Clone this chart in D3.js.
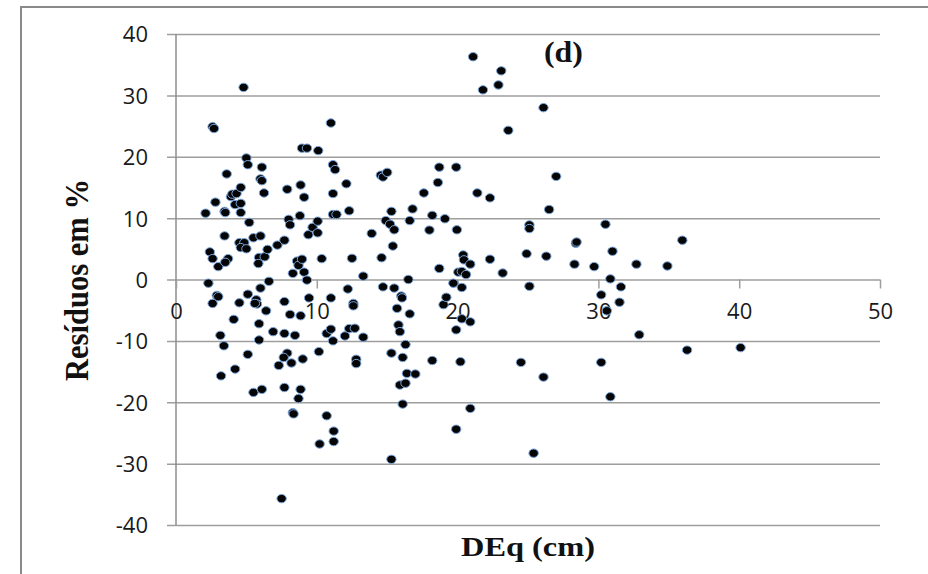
<!DOCTYPE html>
<html>
<head>
<meta charset="utf-8">
<script src="https://cdn.jsdelivr.net/npm/d3@7"></script>
<style>
  body { margin: 0; background: #fff; }
  .axis text { font-family: "Open Sans", sans-serif; font-size: 22px; fill: #1a1a1a; }
  .axis path { display: none; }
  .axis line { stroke: #9e9e9e; stroke-width: 1.5px; }
  .label { font-family: "Liberation Serif", "Times New Roman", serif; font-weight: bold; fill: #111; }
</style>
</head>
<body>
<div id="chart"></div>
<script>
var xTicks = [0, 10, 20, 30, 40, 50];
var yTicks = [-40, -30, -20, -10, 0, 10, 20, 30, 40];

// DEq (cm)
var deq = [
  2.1, 2.3, 2.4, 2.6, 2.6, 2.6, 2.7, 2.8, 2.9, 3.0,
  3.0, 3.15, 3.4, 3.2, 3.45, 3.5, 3.45, 3.6, 3.7, 3.5,
  3.9, 4.0, 4.3, 4.2, 4.6, 4.6, 4.6, 4.1, 4.2, 4.5,
  4.5, 4.85, 4.6, 5.0, 4.8, 5.0, 5.1, 5.2, 5.1, 5.1,
  5.5, 6.0, 5.7, 5.75, 5.6, 5.5, 5.9, 5.85, 6.0, 5.9,
  5.9, 6.1, 6.0, 6.1, 6.25, 6.3, 6.1, 6.4, 6.5, 6.6,
  6.9, 7.2, 7.3, 7.7, 7.7, 7.7, 7.9, 7.65, 7.7, 7.5,
  7.9, 8.0, 8.1, 8.1, 8.2, 8.3, 8.35, 8.3, 8.45, 8.6,
  8.7, 8.7, 8.8, 8.85, 8.85, 8.85, 8.95, 8.95, 9.0, 9.1,
  9.1, 9.3, 9.3, 9.4, 9.45, 9.7, 10.06, 10.06, 10.1, 10.15,
  10.35, 10.2, 10.7, 10.7, 11.0, 11.15, 11.3, 11.15, 11.15, 11.4,
  11.0, 11.0, 11.15, 11.2, 11.2, 12.1, 12.3, 12.5, 12.2, 12.6,
  12.6, 12.0, 12.3, 12.7, 12.8, 12.8, 13.3, 13.3, 13.9, 14.55,
  14.7, 15.0, 14.6, 14.7, 14.9, 15.2, 15.5, 15.3, 15.4, 15.5,
  15.3, 15.3, 15.7, 15.8, 15.9, 16.0, 16.05, 15.9, 16.3, 16.1,
  16.3, 16.1, 16.4, 17.0, 16.5, 16.6, 16.6, 16.8, 17.6, 18.0,
  18.2, 18.2, 18.6, 18.7, 18.7, 19.1, 19.0, 19.2, 19.7, 19.9,
  19.95, 19.9, 19.9, 20.2, 20.3, 20.3, 20.9, 20.4, 20.45, 20.05,
  20.3, 20.6, 20.9, 20.9, 21.1, 21.8, 21.4, 22.3, 22.3, 22.9,
  23.1, 23.2, 23.6, 24.5, 24.9, 25.1, 25.1, 25.1, 25.4, 26.1,
  26.1, 26.3, 26.5, 27.0, 28.3, 28.4, 28.45, 29.7, 30.2, 30.2,
  30.5, 30.6, 30.85, 30.85, 31.0, 31.5, 31.6, 32.7, 32.9, 34.9,
  35.96, 36.3, 40.1
];

// Resíduos em %
var residuos = [
  10.8, -0.6, 4.5, 3.4, -3.9, 24.9, 24.6, 12.6, -2.6, -2.8,
  2.1, -9.1, -10.8, -15.7, 11.1, 10.9, 7.1, 17.2, 3.4, 2.8,
  13.5, 13.9, 14.0, 12.2, 12.4, 15.0, 10.9, -6.5, -14.6, -3.8,
  6.0, 6.0, 5.2, 5.0, 31.3, 19.8, 18.7, 9.3, -2.4, -12.2,
  6.8, 7.1, -3.3, -4.0, -3.9, -18.4, 3.6, 2.6, -1.4, -7.2,
  -9.85, 18.3, 16.4, 16.1, 14.1, 3.7, -17.9, -5.1, 4.9, -0.3,
  -8.5, 5.6, -14.0, 6.4, -3.6, -8.8, -12.0, -12.7, -17.6, -35.7,
  14.7, 9.8, 8.9, -5.7, -13.6, -21.7, -21.9, 1.0, -9.1, 3.0,
  2.3, -19.4, 10.4, 15.4, -5.9, -17.9, 21.4, 3.3, -12.95, 13.4,
  1.2, 21.4, -0.1, 7.3, -3.0, 8.5, 9.5, 7.6, 21.0, -11.75,
  3.4, -26.8, -8.8, -22.2, 25.5, 18.7, 17.9, 14.0, 10.6, 10.6,
  -3.0, -8.1, -10.0, -24.7, -26.4, 15.6, 11.2, 3.45, -1.55, -3.9,
  -4.3, -9.2, -8.0, -7.95, -13.0, -13.7, 0.55, -9.4, 7.5, 17.0,
  16.7, 17.45, 3.55, -1.2, 9.6, 9.0, 8.1, 11.1, 5.45, -1.4,
  -12.0, -29.3, -4.7, -7.4, -8.5, -2.7, -3.0, -17.2, -16.9, -12.7,
  -10.6, -20.3, -15.3, -15.4, 0.0, -5.6, 9.6, 11.5, 14.1, 8.05,
  10.45, -13.2, 15.8, 18.3, 1.8, 9.9, -4.1, -2.9, -0.6, 18.3,
  8.1, -8.2, -24.4, -13.4, -1.3, -6.4, -6.9, 4.0, 3.2, 1.2,
  1.3, 0.8, 2.5, -21.0, 36.3, 30.9, 14.1, 13.3, 3.3, 31.7,
  34.0, 1.05, 24.3, -13.5, 4.2, 8.9, 8.3, -1.1, -28.3, 28.0,
  -15.9, 3.8, 11.4, 16.8, 2.5, 5.9, 6.1, 2.1, -2.5, -13.5,
  9.0, -5.1, 0.1, -19.1, 4.6, -3.7, -1.2, 2.5, -9.0, 2.2,
  6.4, -11.5, -11.1
];

var width = 928, height = 574;
var svg = d3.select("#chart").append("svg")
  .attr("width", width)
  .attr("height", height);

// outer frame, right and bottom edges fall off the picture
svg.append("rect")
  .attr("x", 21).attr("y", 7)
  .attr("width", 1000).attr("height", 1000)
  .attr("fill", "none")
  .attr("stroke", "#8a8a8a")
  .attr("stroke-width", 2);

var x = d3.scaleLinear().domain([0, 50]).range([176, 880]);
var y = d3.scaleLinear().domain([-40, 40]).range([525, 34]);

// plain hyphen for negatives, like the original
var fmt = function (d) { return String(d); };

// horizontal grid + y labels
var yAxis = svg.append("g")
  .attr("class", "axis")
  .attr("transform", "translate(" + x(0) + ",0)")
  .call(d3.axisLeft(y).tickValues(yTicks).tickFormat(fmt)
    .tickSize(-(x(50) - x(0))).tickPadding(28));
yAxis.selectAll(".tick line").attr("x1", -9);
yAxis.selectAll(".tick text").attr("dy", "0.36em");

// vertical axis line
svg.append("line")
  .attr("x1", x(0)).attr("x2", x(0))
  .attr("y1", y(40)).attr("y2", y(-40))
  .attr("stroke", "#8c8c8c").attr("stroke-width", 1.5);

// x axis sits on zero
var xAxis = svg.append("g")
  .attr("class", "axis")
  .attr("transform", "translate(0," + y(0) + ")")
  .call(d3.axisBottom(x).tickValues(xTicks).tickFormat(fmt)
    .tickSize(9).tickPadding(26));
xAxis.selectAll(".tick text").attr("dy", "0.2em");

// points
svg.append("g")
  .selectAll("ellipse")
  .data(deq.map(function (d, i) { return [d, residuos[i]]; }))
  .enter().append("ellipse")
  .attr("cx", function (d) { return x(d[0]); })
  .attr("cy", function (d) { return y(d[1]); })
  .attr("rx", 4.7).attr("ry", 4.2)
  .attr("fill", "#050505")
  .attr("stroke", "#7aa6dc")
  .attr("stroke-width", 1);

svg.append("text")
  .attr("class", "label")
  .attr("x", 544).attr("y", 62)
  .attr("font-size", 29)
  .attr("textLength", 39).attr("lengthAdjust", "spacingAndGlyphs")
  .text("(d)");

svg.append("text")
  .attr("class", "label")
  .attr("x", 461).attr("y", 556)
  .attr("font-size", 28)
  .attr("textLength", 134).attr("lengthAdjust", "spacingAndGlyphs")
  .text("DEq (cm)");

svg.append("text")
  .attr("class", "label")
  .attr("transform", "translate(88,381) rotate(-90)")
  .attr("font-size", 33)
  .attr("textLength", 202).attr("lengthAdjust", "spacingAndGlyphs")
  .text("Resíduos em %");
</script>
</body>
</html>
